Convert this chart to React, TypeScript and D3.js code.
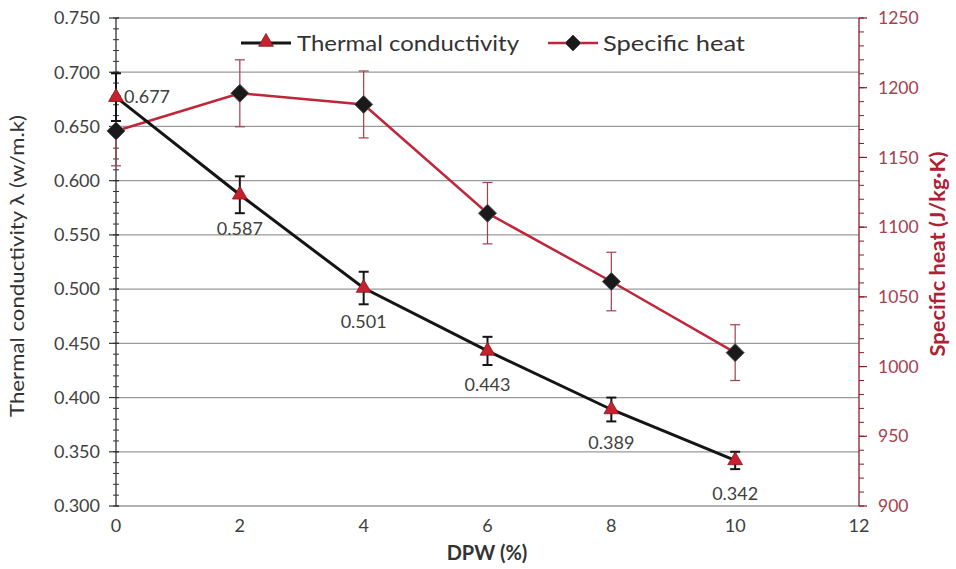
import React from "react";
import * as d3 from "d3";

const dpw = [0, 2, 4, 6, 8, 10];
const conductivity = [0.677, 0.587, 0.501, 0.443, 0.389, 0.342];
const conductivityErr = [0.022, 0.017, 0.015, 0.013, 0.011, 0.008];
const specificHeat = [1169, 1196, 1188, 1110, 1061, 1010];
const specificHeatErr = [25, 24, 24, 22, 21, 20];
const xTicks = [0, 2, 4, 6, 8, 10, 12];
const leftTicks = [0.3, 0.35, 0.4, 0.45, 0.5, 0.55, 0.6, 0.65, 0.7, 0.75];
const rightTicks = [900, 950, 1000, 1050, 1100, 1150, 1200, 1250];

const W = 956;
const H = 569;
const L = 116;
const R = 859;
const T = 18;
const B = 506;
const FONT = "Lato, 'Open Sans', sans-serif";

export default function App() {
  const x = d3.scaleLinear().domain([0, 12]).range([L, R]);
  const yL = d3.scaleLinear().domain([0.3, 0.75]).range([B, T]);
  const yR = d3.scaleLinear().domain([900, 1250]).range([B, T]);
  const minorL = d3.range(0.3, 0.7501, 0.01).map((v) => +v.toFixed(3));
  const minorR = d3.range(900, 1251, 10);

  const tcPath = d3
    .line<number>()
    .x((_, i) => x(dpw[i]))
    .y((d) => yL(d))(conductivity) as string;
  const shPath = d3
    .line<number>()
    .x((_, i) => x(dpw[i]))
    .y((d) => yR(d))(specificHeat) as string;

  const tri = d3.symbol().type(d3.symbolTriangle).size(95)() as string;
  const dia = (s: number) => `M0,${-s}L${s},0L0,${s}L${-s},0Z`;

  const textCol = "#404040";
  const red = "#c0253a";
  const darkRed = "#8e1b2c";

  return (
    <div style={{ position: "absolute", left: 0, top: 0 }}>
      <svg width={W} height={H} style={{ display: "block", background: "#fff" }}>
        <rect width={W} height={H} fill="#fff" />
        {/* gridlines */}
        {leftTicks.map((t) => (
          <line key={"g" + t} x1={L} x2={R} y1={yL(t)} y2={yL(t)} stroke="#9a9a9a" strokeWidth={1.3} />
        ))}
        {/* left axis */}
        <line x1={L} x2={L} y1={T} y2={B} stroke="#333" strokeWidth={1.3} />
        {minorL.map((t) => (
          <line key={"ml" + t} x1={L - 3} x2={L + 3} y1={yL(t)} y2={yL(t)} stroke="#333" strokeWidth={1} />
        ))}
        {leftTicks.map((t) => (
          <g key={"lt" + t}>
            <line x1={L - 7} x2={L + 3} y1={yL(t)} y2={yL(t)} stroke="#333" strokeWidth={1.2} />
            <text x={L - 16} y={yL(t)} dy="0.35em" textAnchor="end" fontSize={18} fill={textCol} fontFamily={FONT}>
              {d3.format(".3f")(t)}
            </text>
          </g>
        ))}
        {/* right axis */}
        <line x1={R} x2={R} y1={T} y2={B} stroke={darkRed} strokeWidth={1.3} />
        {minorR.map((t) => (
          <line key={"mr" + t} x1={R} x2={R + 5} y1={yR(t)} y2={yR(t)} stroke={darkRed} strokeWidth={1} />
        ))}
        {rightTicks.map((t) => (
          <g key={"rt" + t}>
            <line x1={R} x2={R + 8} y1={yR(t)} y2={yR(t)} stroke={darkRed} strokeWidth={1.2} />
            <text x={R + 19} y={yR(t)} dy="0.35em" textAnchor="start" fontSize={17.5} fill="#a8404e" fontFamily={FONT}>
              {t}
            </text>
          </g>
        ))}
        {/* x axis labels */}
        {xTicks.map((t) => (
          <text key={"xt" + t} x={x(t)} y={B + 26} textAnchor="middle" fontSize={18} fill={textCol} fontFamily={FONT}>
            {t}
          </text>
        ))}
        <text x={487} y={560} textAnchor="middle" fontSize={20} fontWeight="bold" fill="#333" fontFamily={FONT}>
          DPW (%)
        </text>
        <text
          transform={`translate(24,266) rotate(-90)`}
          textAnchor="middle"
          fontSize={19.5}
          fill="#333"
          fontFamily={FONT}
          textLength={302}
          lengthAdjust="spacingAndGlyphs"
        >
          Thermal conductivity  λ (w/m.k)
        </text>
        <text
          transform={`translate(945,254) rotate(-90)`}
          textAnchor="middle"
          fontSize={20}
          fontWeight="bold"
          fill="#b02035"
          fontFamily={FONT}
          textLength={205}
          lengthAdjust="spacingAndGlyphs"
        >
          Specific heat (J/kg·K)
        </text>

        {/* specific heat series */}
        {specificHeat.map((v, i) => (
          <g key={"she" + i} stroke="#a0404e" strokeWidth={1.2}>
            <line x1={x(dpw[i])} x2={x(dpw[i])} y1={yR(v + specificHeatErr[i])} y2={yR(v - specificHeatErr[i])} />
            <line x1={x(dpw[i]) - 5} x2={x(dpw[i]) + 5} y1={yR(v + specificHeatErr[i])} y2={yR(v + specificHeatErr[i])} />
            <line x1={x(dpw[i]) - 5} x2={x(dpw[i]) + 5} y1={yR(v - specificHeatErr[i])} y2={yR(v - specificHeatErr[i])} />
          </g>
        ))}
        <path d={shPath} fill="none" stroke={red} strokeWidth={2.5} />

        {/* thermal conductivity series */}
        <path d={tcPath} fill="none" stroke="#151515" strokeWidth={3} />
        {conductivity.map((v, i) => (
          <g key={"tce" + i} stroke="#151515" strokeWidth={2}>
            <line x1={x(dpw[i])} x2={x(dpw[i])} y1={yL(v + conductivityErr[i])} y2={yL(v - conductivityErr[i])} />
            <line x1={x(dpw[i]) - 5} x2={x(dpw[i]) + 5} y1={yL(v + conductivityErr[i])} y2={yL(v + conductivityErr[i])} />
            <line x1={x(dpw[i]) - 5} x2={x(dpw[i]) + 5} y1={yL(v - conductivityErr[i])} y2={yL(v - conductivityErr[i])} />
          </g>
        ))}
        {specificHeat.map((v, i) => (
          <path
            key={"shm" + i}
            d={dia(9)}
            transform={`translate(${x(dpw[i])},${yR(v)})`}
            fill="#1a1a1a"
            stroke="#555"
            strokeWidth={1}
          />
        ))}
        {conductivity.map((v, i) => (
          <path
            key={"tcm" + i}
            d={tri}
            transform={`translate(${x(dpw[i])},${yL(v)})`}
            fill="#c8202c"
            stroke="#7a1a20"
            strokeWidth={0.8}
          />
        ))}
        {conductivity.map((v, i) =>
          i === 0 ? (
            <text key={"lab" + i} x={x(dpw[i]) + 8} y={yL(v)} dy="0.35em" fontSize={18} fill={textCol} fontFamily={FONT}>
              {d3.format(".3f")(v)}
            </text>
          ) : (
            <text key={"lab" + i} x={x(dpw[i])} y={yL(v) + 40} textAnchor="middle" fontSize={18} fill={textCol} fontFamily={FONT}>
              {d3.format(".3f")(v)}
            </text>
          )
        )}

        {/* legend */}
        <g fontFamily={FONT} fontSize={22} fill="#333">
          <line x1={241} x2={291} y1={43} y2={43} stroke="#151515" strokeWidth={3} />
          <path d={tri} transform="translate(266,42)" fill="#c8202c" stroke="#7a1a20" strokeWidth={0.8} />
          <text x={297} y={43} dy="0.35em" textLength={222} lengthAdjust="spacingAndGlyphs">Thermal conductivity</text>
          <line x1={548} x2={598} y1={43} y2={43} stroke={red} strokeWidth={2.5} />
          <path d={dia(8)} transform="translate(573,43)" fill="#1a1a1a" stroke="#555" strokeWidth={1} />
          <text x={603} y={43} dy="0.35em" textLength={142} lengthAdjust="spacingAndGlyphs">Specific heat</text>
        </g>
      </svg>
    </div>
  );
}
